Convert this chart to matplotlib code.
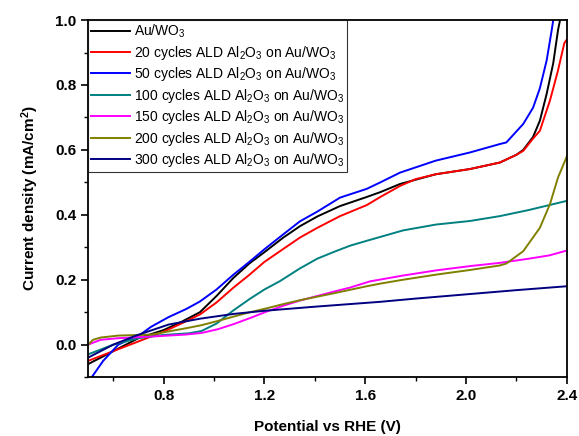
import matplotlib
matplotlib.use("Agg")
import matplotlib.pyplot as plt
from matplotlib.ticker import MultipleLocator

plt.rcParams['font.family'] = ['Liberation Sans', 'DejaVu Sans']
plt.rcParams['mathtext.default'] = 'regular'

# potencjał (V vs RHE) i gęstość prądu (mA/cm2)
x_au = [0.5, 0.6, 0.7, 0.8, 0.87, 0.944, 1.01, 1.076, 1.14, 1.2, 1.275, 1.341, 1.41, 1.5, 1.606, 1.66, 1.738, 1.88, 2.015, 2.134, 2.2, 2.227, 2.266, 2.293, 2.32, 2.346, 2.365, 2.373]
y_au = [-0.06, -0.02, 0.02, 0.045, 0.07, 0.10, 0.15, 0.205, 0.25, 0.285, 0.33, 0.365, 0.395, 0.427, 0.455, 0.47, 0.495, 0.525, 0.541, 0.561, 0.585, 0.60, 0.64, 0.69, 0.773, 0.867, 0.969, 1.0]

x_20 = [0.5, 0.6, 0.7, 0.8, 0.87, 0.944, 1.01, 1.076, 1.14, 1.2, 1.275, 1.341, 1.41, 1.5, 1.606, 1.66, 1.738, 1.8, 1.88, 2.015, 2.134, 2.2, 2.227, 2.266, 2.293, 2.333, 2.365, 2.39, 2.4]
y_20 = [-0.05, -0.02, 0.01, 0.04, 0.065, 0.093, 0.13, 0.175, 0.215, 0.255, 0.295, 0.33, 0.36, 0.396, 0.43, 0.455, 0.489, 0.51, 0.525, 0.541, 0.561, 0.585, 0.597, 0.635, 0.659, 0.752, 0.845, 0.929, 0.94]

x_50 = [0.515, 0.56, 0.62, 0.706, 0.75, 0.82, 0.89, 0.944, 1.01, 1.076, 1.14, 1.2, 1.275, 1.341, 1.41, 1.5, 1.606, 1.66, 1.738, 1.88, 2.015, 2.134, 2.16, 2.227, 2.266, 2.293, 2.32, 2.34, 2.346]
y_50 = [-0.1, -0.05, 0.0, 0.03, 0.055, 0.085, 0.11, 0.133, 0.17, 0.215, 0.255, 0.294, 0.34, 0.38, 0.41, 0.453, 0.48, 0.50, 0.53, 0.567, 0.592, 0.618, 0.623, 0.68, 0.73, 0.79, 0.876, 0.969, 1.0]

x_100 = [0.5, 0.6, 0.7, 0.8, 0.9, 0.95, 1.01, 1.076, 1.14, 1.2, 1.26, 1.341, 1.41, 1.473, 1.54, 1.606, 1.66, 1.75, 1.88, 2.015, 2.134, 2.25, 2.4]
y_100 = [-0.03, 0.0, 0.02, 0.03, 0.035, 0.042, 0.065, 0.105, 0.14, 0.17, 0.195, 0.235, 0.265, 0.285, 0.305, 0.32, 0.332, 0.352, 0.37, 0.381, 0.396, 0.415, 0.443]

x_150 = [0.5, 0.55, 0.62, 0.75, 0.885, 0.95, 1.017, 1.08, 1.143, 1.209, 1.275, 1.341, 1.41, 1.473, 1.54, 1.619, 1.75, 1.883, 2.015, 2.134, 2.25, 2.33, 2.4]
y_150 = [0.0, 0.015, 0.02, 0.025, 0.031, 0.036, 0.048, 0.064, 0.082, 0.102, 0.12, 0.136, 0.15, 0.163, 0.176, 0.195, 0.213, 0.229, 0.242, 0.252, 0.265, 0.275, 0.29]

x_200 = [0.5, 0.52, 0.55, 0.62, 0.75, 0.885, 0.95, 1.01, 1.08, 1.143, 1.209, 1.275, 1.341, 1.473, 1.606, 1.659, 1.75, 1.883, 2.015, 2.134, 2.16, 2.227, 2.293, 2.333, 2.365, 2.4]
y_200 = [0.0, 0.015, 0.022, 0.028, 0.031, 0.05, 0.06, 0.072, 0.087, 0.1, 0.112, 0.125, 0.137, 0.158, 0.18, 0.188, 0.2, 0.216, 0.23, 0.244, 0.25, 0.288, 0.36, 0.433, 0.515, 0.58]

x_300 = [0.5, 0.6, 0.69, 0.82, 0.944, 1.08, 1.209, 1.4, 1.659, 1.8, 2.0, 2.2, 2.4]
y_300 = [-0.04, 0.0, 0.028, 0.062, 0.08, 0.095, 0.105, 0.117, 0.132, 0.142, 0.155, 0.168, 0.18]

fig = plt.figure(figsize=(5.79, 4.36), dpi=100)
ax = fig.add_axes([0.152, 0.135, 0.827, 0.819])

ax.plot(x_au, y_au, color='black', lw=1.4, label='Au/WO$_3$')
ax.plot(x_20, y_20, color='red', lw=1.4, label='20 cycles ALD Al$_2$O$_3$ on Au/WO$_3$')
ax.plot(x_50, y_50, color='blue', lw=1.4, label='50 cycles ALD Al$_2$O$_3$ on Au/WO$_3$')
ax.plot(x_100, y_100, color='#008080', lw=1.4, label='100 cycles ALD Al$_2$O$_3$ on Au/WO$_3$')
ax.plot(x_150, y_150, color='#ff00ff', lw=1.4, label='150 cycles ALD Al$_2$O$_3$ on Au/WO$_3$')
ax.plot(x_200, y_200, color='#808000', lw=1.4, label='200 cycles ALD Al$_2$O$_3$ on Au/WO$_3$')
ax.plot(x_300, y_300, color='#000080', lw=1.4, label='300 cycles ALD Al$_2$O$_3$ on Au/WO$_3$')

ax.set_xlim(0.5, 2.4)
ax.set_ylim(-0.1, 1.0)
ax.xaxis.set_major_locator(MultipleLocator(0.4))
ax.xaxis.set_minor_locator(MultipleLocator(0.2))
ax.yaxis.set_major_locator(MultipleLocator(0.2))
ax.yaxis.set_minor_locator(MultipleLocator(0.1))
ax.set_xticks([0.8, 1.2, 1.6, 2.0, 2.4])
ax.tick_params(which='major', direction='out', length=5, width=1.2, labelsize=11)
ax.tick_params(which='minor', direction='out', length=3, width=1.0)
for lab in ax.get_xticklabels() + ax.get_yticklabels():
    lab.set_fontweight('bold')
for s in ax.spines.values():
    s.set_linewidth(1.3)

ax.set_xlabel('Potential vs RHE (V)', fontsize=11, fontweight='bold', labelpad=12)
ax.set_ylabel('Current density (mA/cm$^2$)', fontsize=11, fontweight='bold', labelpad=10)

leg = ax.legend(loc='upper left', fontsize=10, frameon=True, fancybox=False,
                borderaxespad=0, handlelength=2.8, handletextpad=0.3,
                labelspacing=0.25, borderpad=0.2)
leg.get_frame().set_edgecolor('black')
leg.get_frame().set_linewidth(0.8)

fig.savefig('out.png', dpi=100)
